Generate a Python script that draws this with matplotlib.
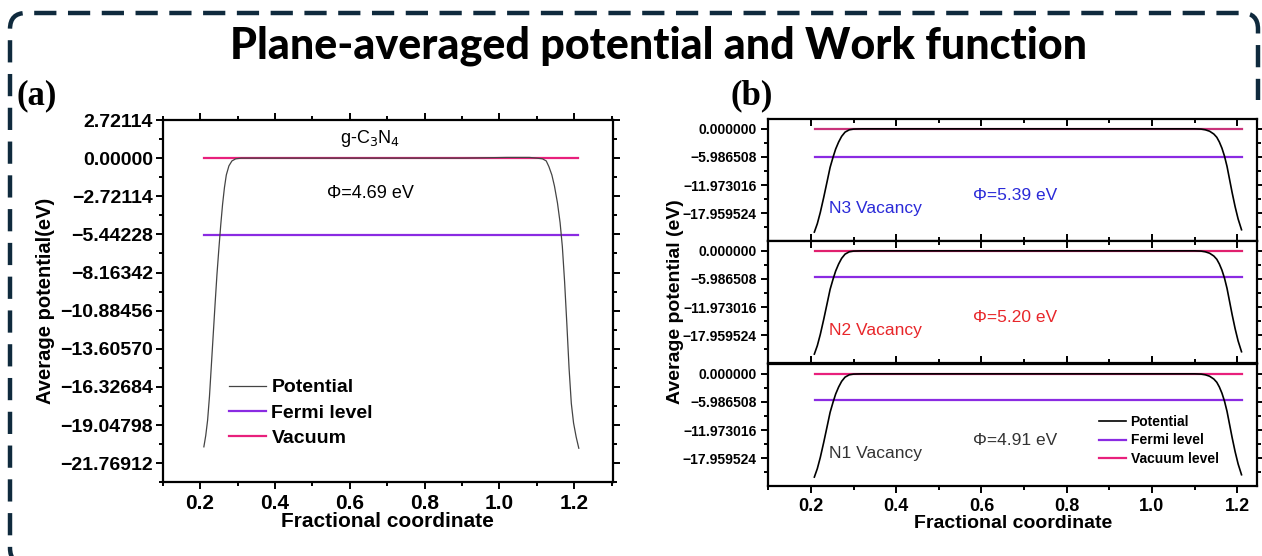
import matplotlib
matplotlib.use('Agg')
import matplotlib.pyplot as plt
from matplotlib.patches import FancyBboxPatch, Rectangle
from matplotlib.transforms import IdentityTransform
from matplotlib.ticker import MultipleLocator, FixedLocator, FixedFormatter

plt.rcParams['font.family'] = ['Liberation Sans', 'DejaVu Sans']

# ---- data ----
# (a) pristine g-C3N4
pot_x_a = [0.210, 0.215, 0.220, 0.225, 0.230, 0.235, 0.240, 0.245, 0.250, 0.255,
           0.260, 0.265, 0.270, 0.277, 0.285, 0.295, 0.310, 0.330, 0.500, 0.700,
           0.900, 1.020, 1.050, 1.080, 1.100, 1.115, 1.125, 1.132, 1.140, 1.147,
           1.155, 1.162, 1.168, 1.174, 1.180, 1.186, 1.192, 1.198, 1.205, 1.212]
pot_y_a = [-20.6, -19.8, -18.7, -17.0, -14.8, -12.6, -10.4, -8.3, -6.5, -4.8,
           -3.3, -2.1, -1.2, -0.55, -0.2, -0.05, 0.0, 0.0, 0.0, 0.0,
           0.0, 0.05, 0.05, 0.05, 0.0, -0.05, -0.2, -0.6, -1.2, -2.0,
           -3.2, -4.6, -6.3, -8.8, -11.8, -15.0, -17.5, -18.9, -19.9, -20.7]
fermi_a = -5.5
vacuum_a = 0.0
level_x = [0.21, 1.21]
phi_a = 'Φ=4.69 eV'
yticks_a = [2.72114, 0.0, -2.72114, -5.44228, -8.16342, -10.88456,
            -13.60570, -16.32684, -19.04798, -21.76912]

# (b) vacancies, top to bottom
pot_x_b = [0.208, 0.215, 0.222, 0.230, 0.238, 0.245, 0.252, 0.258, 0.265, 0.272,
           0.280, 0.290, 0.300, 0.320, 0.500, 0.700, 0.900, 1.100, 1.115, 1.125,
           1.135, 1.145, 1.152, 1.158, 1.164, 1.170, 1.176, 1.182, 1.188, 1.195,
           1.202, 1.210]
pot_y_b = [-22.0, -20.2, -17.8, -14.6, -11.2, -8.2, -6.0, -4.3, -2.8, -1.6,
           -0.7, -0.2, -0.05, 0.0, 0.0, 0.0, 0.0, 0.0, -0.05, -0.2,
           -0.5, -1.1, -1.8, -2.8, -4.1, -5.8, -8.0, -10.8, -13.6, -16.6,
           -19.2, -21.5]
names_b = ['N3 Vacancy', 'N2 Vacancy', 'N1 Vacancy']
phis_b = ['Φ=5.39 eV', 'Φ=5.20 eV', 'Φ=4.91 eV']
fermi_b = [-5.9, -5.6, -5.5]
text_colors_b = ['#2a2ad8', '#e8262a', '#333333']
vac_colors_b = ['#c8337a', '#e0206e', '#e8207c']
yticks_b = [0.0, -5.986508, -11.973016, -17.959524]

c_fermi = '#8a2be2'
c_vac = '#e8207c'


def fmt(vals, nd):
    return [f'{v:.{nd}f}'.replace('-', '\u2212') for v in vals]


def style(ax):
    for s in ax.spines.values():
        s.set_linewidth(1.6)
    ax.xaxis.set_major_locator(MultipleLocator(0.2))
    ax.xaxis.set_minor_locator(MultipleLocator(0.1))
    ax.tick_params(which='both', top=True, right=True, width=1.4)
    ax.tick_params(axis='y', which='both', left=True, direction='out')
    ax.tick_params(which='major', length=5)
    ax.tick_params(which='minor', length=3)
    for t in ax.get_xticklabels() + ax.get_yticklabels():
        t.set_fontweight('bold')


fig = plt.figure(figsize=(12.62, 5.56), dpi=100)

# dashed rounded frame (pixel coordinates)
frame = FancyBboxPatch((10, -8), 1248, 543 + 8, boxstyle='round,pad=0,rounding_size=16',
                       transform=IdentityTransform(), fill=False, zorder=-2,
                       edgecolor='#0f2a3d', linewidth=3.2, linestyle=(0, (5, 2.6)))
frame.set_clip_on(False)
fig.patches.append(frame)
# panel (b) was pasted as a picture: its white background hides the frame
cover = Rectangle((655, -10), 620, 556 - 100 + 10, transform=IdentityTransform(),
                  facecolor='white', edgecolor='none', zorder=-1)
fig.patches.append(cover)

fig.text(0.522, 0.918, 'Plane-averaged potential and Work function',
         ha='center', va='center', fontsize=31, fontweight='black',
         family=['Lato', 'DejaVu Sans'])
fig.text(16 / 1262, 1 - 96 / 556, '(a)', fontsize=25, fontweight='bold',
         family=['Liberation Serif'], va='center')
fig.text(731 / 1262, 1 - 96 / 556, '(b)', fontsize=25, fontweight='bold',
         family=['Liberation Serif'], va='center')

# ---- panel (a) ----
ax = fig.add_axes([162.7 / 1262, 1 - 482.3 / 556, 450 / 1262, 362.3 / 556])
ax.plot(pot_x_a, pot_y_a, color='#444444', lw=0.9, label='Potential', zorder=3)
ax.plot(level_x, [fermi_a, fermi_a], color=c_fermi, lw=1.6, label='Fermi level')
ax.plot(level_x, [vacuum_a, vacuum_a], color=c_vac, lw=1.6, label='Vacuum')
ax.set_xlim(0.1, 1.3026)
ax.set_ylim(-23.13, 2.72114)
ax.yaxis.set_major_locator(FixedLocator(yticks_a))
ax.yaxis.set_major_formatter(FixedFormatter(fmt(yticks_a, 5)))
ax.yaxis.set_minor_locator(FixedLocator([v - 1.36057 for v in yticks_a]))
style(ax)
ax.tick_params(axis='x', which='both', bottom=True, direction='out')
ax.tick_params(axis='x', which='both', top=True)
ax.tick_params(axis='x', labelsize=15)
ax.tick_params(axis='y', labelsize=14, pad=2)
ax.text(0.655, 1.4, 'g-C$_3$N$_4$', ha='center', va='center', fontsize=13)
ax.text(0.655, -2.5, phi_a, ha='center', va='center', fontsize=13)
ax.set_xlabel('Fractional coordinate', fontsize=15, fontweight='bold', labelpad=-1)
ax.set_ylabel('Average potential(eV)', fontsize=14.5, fontweight='bold', labelpad=4)
ax.legend(loc='lower left', bbox_to_anchor=(0.125, 0.07), frameon=False,
          prop={'weight': 'bold', 'size': 14}, handlelength=1.9,
          handletextpad=0.3, labelspacing=0.4, borderpad=0)

# ---- panel (b) ----
bottoms = [241, 363, 486]
axes_b = []
for i in range(3):
    axb = fig.add_axes([768.3 / 1262, 1 - bottoms[i] / 556, 489 / 1262, 122 / 556])
    axb.plot(pot_x_b, pot_y_b, color='black', lw=1.2, label='Potential', zorder=3)
    axb.plot(level_x, [fermi_b[i], fermi_b[i]], color=c_fermi, lw=1.6, label='Fermi level')
    axb.plot(level_x, [0.0, 0.0], color=vac_colors_b[i], lw=1.6, label='Vacuum level')
    axb.set_xlim(0.1, 1.247)
    axb.set_ylim(-23.9, 2.1)
    axb.yaxis.set_major_locator(FixedLocator(yticks_b))
    axb.yaxis.set_major_formatter(FixedFormatter(fmt(yticks_b, 6)))
    axb.yaxis.set_minor_locator(FixedLocator([v - 2.993254 for v in yticks_b]))
    style(axb)
    axb.tick_params(axis='y', labelsize=10)
    axb.tick_params(axis='x', which='both', direction='in', top=True)
    if i < 2:
        axb.tick_params(axis='x', labelbottom=False)
    else:
        axb.tick_params(axis='x', which='both', bottom=True, direction='out')
        axb.tick_params(axis='x', which='both', top=True)
        axb.tick_params(axis='x', labelsize=13)
        axb.set_xlabel('Fractional coordinate', fontsize=14, fontweight='bold', labelpad=0)
    axb.text(0.242, -17.0, names_b[i], color=text_colors_b[i], fontsize=12.5,
             ha='left', va='center')
    axb.text(0.678, -14.3, phis_b[i], color=text_colors_b[i], fontsize=12.5,
             ha='center', va='center')
    axes_b.append(axb)

axes_b[2].legend(loc='lower right', bbox_to_anchor=(0.935, 0.11), frameon=False,
                 prop={'weight': 'bold', 'size': 10}, handlelength=2.0,
                 handletextpad=0.3, labelspacing=0.3, borderpad=0)
fig.text(676 / 1262, 1 - 302 / 556, 'Average potential (eV)', rotation=90,
         ha='center', va='center', fontsize=14, fontweight='bold')

fig.savefig('out.png', dpi=100)
